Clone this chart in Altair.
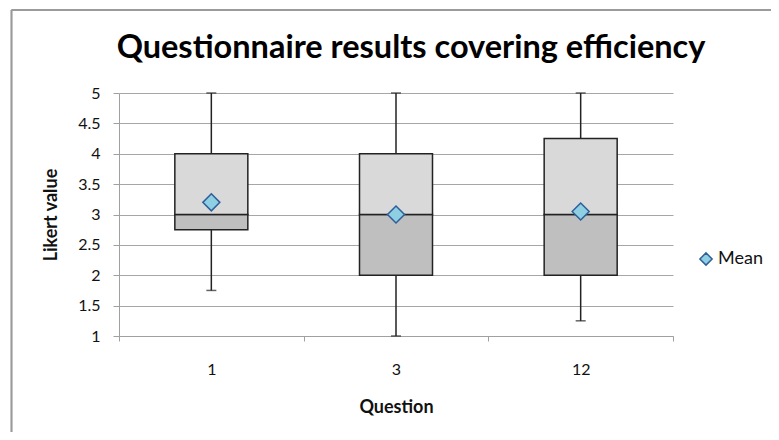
import altair as alt
import pandas as pd

questions = ["1", "3", "12"]
mins = [1.75, 1.0, 1.25]
q1s = [2.75, 2.0, 2.0]
medians = [3.0, 3.0, 3.0]
q3s = [4.0, 4.0, 4.25]
maxs = [5.0, 5.0, 5.0]
means = [3.2, 3.0, 3.05]
y_ticks = [1.0, 1.5, 2.0, 2.5, 3.0, 3.5, 4.0, 4.5, 5.0]
chart_title = "Questionnaire results covering efficiency"

df = pd.DataFrame({
    "q": questions, "min": mins, "q1": q1s, "median": medians,
    "q3": q3s, "max": maxs, "mean": means, "series": ["Mean"] * 3,
})

FONT = "Lato"
xenc = alt.X("q:N", sort=questions, title="Question",
             scale=alt.Scale(paddingInner=0, paddingOuter=0),
             axis=alt.Axis(labelAngle=0, tickBand="extent", tickSize=5, tickColor="#a0a0a0",
                           domainColor="#a0a0a0", labelFontSize=16, labelPadding=20,
                           titleFontSize=18, titleFontWeight="bold", titlePadding=21,
                           labelColor="#111", titleColor="#111", grid=False))
yscale = alt.Scale(domain=[1, 5], nice=False, zero=False)
yaxis = alt.Axis(values=y_ticks, format=".2~f", tickSize=6, tickColor="#a0a0a0",
                 domainColor="#a0a0a0", gridColor="#a6a6a6", gridWidth=1,
                 labelFontSize=16, labelPadding=13, labelColor="#111",
                 title="Likert value", titleFontSize=18, titleFontWeight="bold",
                 titleColor="#111", titlePadding=17)


def Y(field):
    return alt.Y(field, scale=yscale, axis=yaxis)


base = alt.Chart(df).encode(x=xenc)

whisker = base.mark_rule(color="#222", strokeWidth=1.5).encode(y=Y("min:Q"), y2="max:Q")
caps_lo = base.mark_tick(color="#222", size=10, thickness=1.5, orient="horizontal").encode(
    y=Y("min:Q"))
caps_hi = base.mark_tick(color="#222", size=10, thickness=1.5, orient="horizontal").encode(
    y=Y("max:Q"))
lower = base.mark_bar(size=73, color="#bfbfbf", stroke="#222", strokeWidth=1.5).encode(
    y=Y("q1:Q"), y2="median:Q")
upper = base.mark_bar(size=73, color="#d9d9d9", stroke="#222", strokeWidth=1.5).encode(
    y=Y("median:Q"), y2="q3:Q")
mean_pt = base.mark_point(filled=True, shape="diamond", size=290, stroke="#2F5F98",
                          strokeWidth=1.5, opacity=1).encode(
    y=Y("mean:Q"),
    fill=alt.Fill("series:N", scale=alt.Scale(domain=["Mean"], range=["#8ECFE3"]),
                  legend=alt.Legend(title=None, orient="none", legendX=578, legendY=157,
                                    symbolType="diamond", symbolSize=150,
                                    symbolStrokeColor="#2F5F98", symbolStrokeWidth=1.5,
                                    labelFontSize=18, labelColor="#111", labelFont=FONT,
                                    labelOffset=3)))

border_l = alt.Chart(df).mark_rule(color="#9a9a9a", strokeWidth=1.5).encode(
    x=alt.value(-107.5), y=alt.value(-83), y2=alt.value(340))
border_t = alt.Chart(df).mark_rule(color="#9a9a9a", strokeWidth=1.5).encode(
    x=alt.value(-107.5), x2=alt.value(660), y=alt.value(-83))
title_txt = alt.Chart(pd.DataFrame({"t": [chart_title]})).mark_text(
    font=FONT, fontSize=32.5, fontWeight="bold", color="#000", align="center",
    baseline="alphabetic").encode(text="t:N", x=alt.value(292), y=alt.value(-35))

chart = alt.layer(border_l, border_t, whisker, caps_lo, caps_hi, lower, upper, mean_pt,
                  title_txt).properties(
    width=554, height=243,
    autosize=alt.AutoSizeParams(type="none"),
    padding={"left": 111, "top": 85, "right": 98, "bottom": 96},
).configure(font=FONT).configure_view(stroke=None).configure_axis(
    labelFont=FONT, titleFont=FONT)

chart.save("out.html", embed_options={"renderer": "svg", "actions": False})
